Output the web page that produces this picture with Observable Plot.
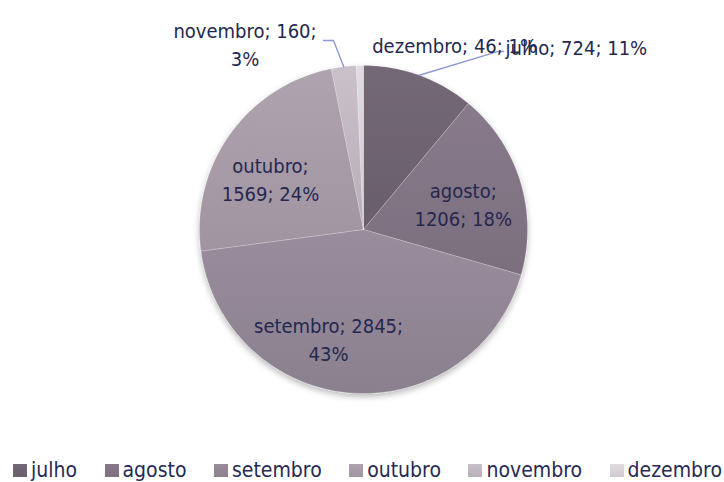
<!DOCTYPE html>
<html><head><meta charset="utf-8">
<script src="https://cdn.jsdelivr.net/npm/d3@7"></script>
<script src="https://cdn.jsdelivr.net/npm/@observablehq/plot@0.6"></script>
<style>
body{margin:0;background:#fff;font-family:"DejaVu Sans Condensed","DejaVu Sans",sans-serif;}
#chart{width:724px;}
.legend{display:flex;justify-content:space-between;align-items:center;box-sizing:border-box;width:724px;height:32px;padding:9px 2px 0 13px;color:#262a54;font-size:21px;line-height:25px;}
.legend .item{display:flex;align-items:center;white-space:nowrap;}
.legend .sw{display:inline-block;width:14px;height:13px;margin-right:4px;}
</style></head><body><div id="chart"></div><script>
// ---- data ----
const months   = ["julho","agosto","setembro","outubro","novembro","dezembro"];
const values   = [724, 1206, 2845, 1569, 160, 46];
const percents = [11, 18, 43, 24, 3, 1];
// ---- styling / layout ----
const colors   = ["#6f6471","#827585","#938796","#a89ca9","#c1b8c2","#d9d3d9"];
const lineBreakAfter = [null, 0, 1, 0, 1, null]; // which "; " becomes a line break
const labelLayout = [ // label anchor in pie-radius units, text anchor
  [0.866, 1.118, "start"],
  [0.608, 0.161, "middle"],
  [-0.213, -0.662, "middle"],
  [-0.567, 0.313, "middle"],
  [-0.7226, 1.1366, "middle"],
  [0.053, 1.130, "start"]
];
const leaderLayout = { // elbow and end points for outside labels (pie-radius units)
  julho:    [[0.817, 1.085], [0.854, 1.085]],
  novembro: [[-0.183, 1.152], [-0.244, 1.152]]
};

const W = 724, H = 450, cx = 363, cy = 229, Rpx = 164;
const total = d3.sum(values);

// slice polygons
const slices = [];
let acc = 0;
const mids = [];
values.forEach((v, i) => {
  const a0 = acc / total * 2 * Math.PI;
  acc += v;
  const a1 = acc / total * 2 * Math.PI;
  mids.push((a0 + a1) / 2);
  const n = Math.max(3, Math.ceil((a1 - a0) / (Math.PI / 180)));
  slices.push({month: months[i], x: 0, y: 0});
  for (let k = 0; k <= n; k++) {
    const a = a0 + (a1 - a0) * k / n;
    slices.push({month: months[i], x: Math.sin(a), y: Math.cos(a)});
  }
  slices.push({month: months[i], x: 0, y: 0});
});

// labels
const labels = months.map((m, i) => {
  const parts = [m, String(values[i]), percents[i] + "%"];
  let t = "";
  parts.forEach((p, k) => {
    t += p;
    if (k < parts.length - 1) t += (lineBreakAfter[i] === k ? ";\n" : "; ");
  });
  return {month: m, text: t, x: labelLayout[i][0], y: labelLayout[i][1], anchor: labelLayout[i][2]};
});

// leaders
const leaders = [];
months.forEach((m, i) => {
  if (!leaderLayout[m]) return;
  leaders.push({month: m, x: Math.sin(mids[i]), y: Math.cos(mids[i])});
  leaderLayout[m].forEach(p => leaders.push({month: m, x: p[0], y: p[1]}));
});

const textOpts = {x: "x", y: "y", text: "text", fontSize: 20, lineHeight: 1.4, lineAnchor: "middle", fill: "#242850"};

const svg = Plot.plot({
  width: W, height: H, margin: 0,
  style: {fontFamily: '"DejaVu Sans Condensed","DejaVu Sans",sans-serif', background: "#fff"},
  x: {domain: [-cx / Rpx, (W - cx) / Rpx], axis: null},
  y: {domain: [-(H - cy) / Rpx, cy / Rpx], axis: null},
  color: {domain: months, range: months.map((m, i) => `url(#grad${i})`)},
  marks: [
    Plot.line(slices, {x: "x", y: "y", z: "month", fill: "month", stroke: "#ffffff", strokeOpacity: 0.3, strokeWidth: 0.7, curve: "linear"}),
    Plot.line(leaders, {x: "x", y: "y", z: "month", stroke: "#8e98d2", strokeWidth: 1.4}),
    Plot.text(labels.filter(d => d.anchor === "middle"), {...textOpts, textAnchor: "middle"}),
    Plot.text(labels.filter(d => d.anchor === "start"), {...textOpts, textAnchor: "start"})
  ]
});

const s = d3.select(svg);
const defs = s.insert("defs", ":first-child");
colors.forEach((c, i) => {
  const g = defs.append("linearGradient").attr("id", `grad${i}`).attr("x1", 0).attr("y1", 0).attr("x2", 0).attr("y2", 1);
  g.append("stop").attr("offset", "0%").attr("stop-color", d3.color(c).brighter(0.12).formatHex());
  g.append("stop").attr("offset", "100%").attr("stop-color", d3.color(c).darker(0.15).formatHex());
});
const f = defs.append("filter").attr("id", "pieShadow").attr("x", "-10%").attr("y", "-10%").attr("width", "120%").attr("height", "125%");
f.append("feDropShadow").attr("dx", 0).attr("dy", 3).attr("stdDeviation", 3).attr("flood-color", "#000").attr("flood-opacity", 0.28);
const pieG = svg.querySelector('g[aria-label="line"]');
if (pieG) pieG.setAttribute("filter", "url(#pieShadow)");

const chart = document.getElementById("chart");
chart.appendChild(svg);

// legend
const legend = document.createElement("div");
legend.className = "legend";
months.forEach((m, i) => {
  const it = document.createElement("span");
  it.className = "item";
  const sw = document.createElement("span");
  sw.className = "sw";
  sw.style.background = `linear-gradient(${d3.color(colors[i]).brighter(0.1).formatHex()}, ${d3.color(colors[i]).darker(0.12).formatHex()})`;
  it.appendChild(sw);
  const tx = document.createElement("span");
  tx.textContent = m;
  it.appendChild(tx);
  legend.appendChild(it);
});
chart.appendChild(legend);
</script></body></html>
